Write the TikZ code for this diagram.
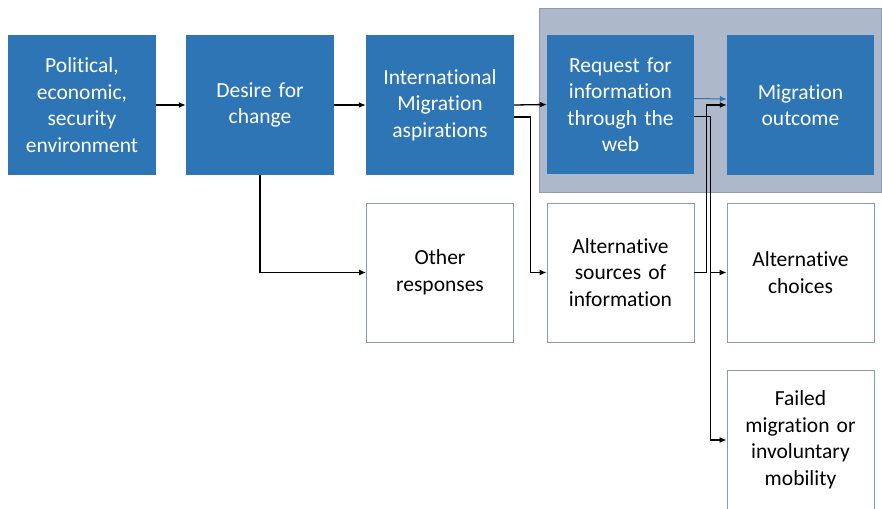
\documentclass[tikz,border=0pt]{standalone}
\usepackage{fontspec}
\setmainfont{Carlito}[Ligatures=CommonOff]
\usetikzlibrary{arrows.meta}
\definecolor{boxblue}{RGB}{46,117,182}
\definecolor{bandgrey}{RGB}{173,185,202}
\definecolor{bandedge}{RGB}{140,156,180}
\definecolor{wedge}{RGB}{132,156,186}
\tikzset{
  blk/.style={fill=boxblue, draw=none, text=white, minimum width=148pt, minimum height=140pt,
    text width=140pt, align=center, inner sep=0pt, font=\fontsize{21.5}{26.5}\selectfont},
  wht/.style={fill=white, draw=wedge, line width=0.8pt, text=black, minimum width=147pt, minimum height=139pt,
    text width=140pt, align=center, inner sep=0pt, font=\fontsize{21.5}{26.5}\selectfont},
  conn/.style={draw=black, line width=1.3pt, -{Latex[length=7pt,width=6pt]}},
  bconn/.style={draw=boxblue, line width=1pt, -{Latex[length=7pt,width=6pt]}}
}
\begin{document}
\begin{tikzpicture}[x=1pt,y=-1pt]
\useasboundingbox (0,0) rectangle (882,508);
\fill[white] (0,0) rectangle (882,508);
\filldraw[fill=bandgrey, draw=bandedge, line width=0.8pt] (539,8) rectangle (881,192);
\node[blk] (b1) at (82,105) {Political,\\economic,\\security\\environment};
\node[blk] (b2) at (260,105) {Desire for\\change};
\node[blk] (b3) at (440,105) {International\\Migration\\aspirations};
\node[blk, minimum width=147pt, minimum height=139pt] (b4) at (620.5,104.5) {Request for\\information\\through the\\web};
\node[blk, minimum width=147pt] (b5) at (800.5,105) {Migration\\outcome};
\node[wht] (other) at (440,272.5) {Other\\responses};
\node[wht] (altsrc) at (620.5,272.5) {Alternative\\sources of\\information};
\node[wht] (altch) at (800.5,272.5) {Alternative\\choices};
\node[wht, minimum height=140pt] (failed) at (800.5,440) {Failed\\migration or\\involuntary\\mobility};
\draw[conn] (b1.east) -- (b2.west);
\draw[conn] (b2.east) -- (b3.west);
\draw[conn] (b3.east) -- (b4.west);
\draw[conn] ([yshift=-12pt]b3.east) -- ++(16,0) |- (altsrc.west);
\draw[conn] (b2.south) |- (other.west);
\draw[bconn] ([yshift=6pt]b4.east) -- ([yshift=6pt]b5.west);
\draw[conn] (altsrc.east) -- ++(12,0) |- (b5.west);
\draw[conn] ([yshift=-12pt]b4.east) -- ++(16,0) coordinate (j) |- (altch.west);
\draw[conn] (j) |- (failed.west);
\end{tikzpicture}
\end{document}
